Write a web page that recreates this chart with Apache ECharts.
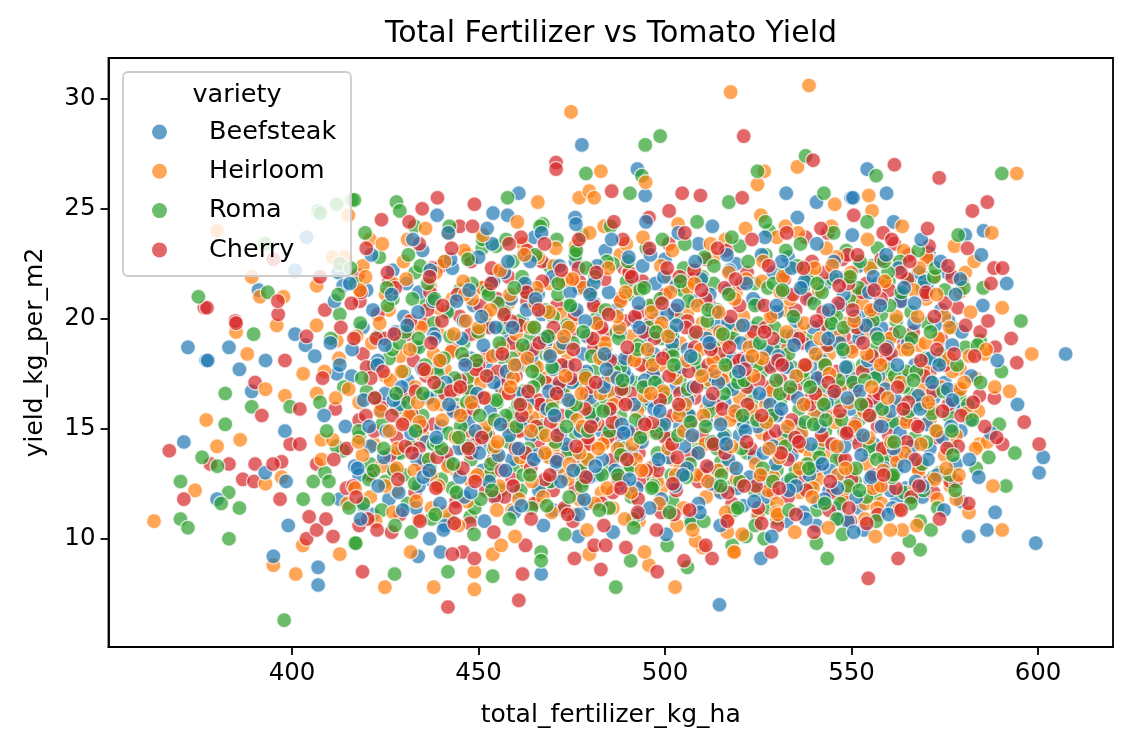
<!DOCTYPE html>
<html>
<head>
<meta charset="utf-8">
<title>Total Fertilizer vs Tomato Yield</title>
<script src="https://cdn.jsdelivr.net/npm/echarts@6/dist/echarts.min.js"></script>
<style>
    html, body { margin: 0; padding: 0; background: #fff; }
    #grafico { width: 1132px; height: 748px; }
</style>
</head>
<body>
<div id="grafico"></div>
<script>
// variedades e cores (tab10)
var variedades = ["Beefsteak", "Heirloom", "Roma", "Cherry"];
var cores = ["#1f77b4", "#ff7f0e", "#2ca02c", "#d62728"];

// ticks dos eixos
var ticksX = [400, 450, 500, 550, 600];
var ticksY = [10, 15, 20, 25, 30];

// [total_fertilizer_kg_ha, yield_kg_per_m2] (nucleo estimado)
var beefsteak = [
    [372.1,18.7],[377.0,18.1],[377.4,18.1],[383.1,18.7],[385.9,17.7],[389.2,16.7],[392.9,18.1],[371.0,14.4],[379.9,11.8],[395.0,9.2],
    [399.0,10.6],[407.0,8.7],[407.0,7.9],[392.8,13.0],[398.4,12.6],[416.8,13.3],[412.8,11.8],[400.8,19.3],[403.6,18.8],[398.1,14.9],
    [406.1,18.3],[412.0,17.5],[403.9,23.7],[400.8,22.2],[412.4,22.1],[391.0,21.3],[413.7,21.5],[421.7,11.1],[419.1,11.5],[433.8,9.2],
    [439.8,9.4],[436.9,10.0],[466.8,8.4],[476.7,10.1],[514.6,7.0],[477.7,27.9],[492.6,26.8],[494.7,25.6],[460.8,25.7],[453.9,24.8],
    [457.8,24.7],[438.9,24.7],[475.9,24.6],[554.2,26.8],[532.5,25.7],[540.6,25.3],[549.9,25.5],[550.4,25.5],[559.4,25.7],[561.3,24.4],
    [580.5,23.8],[585.4,24.0],[570.7,23.0],[575.6,22.1],[570.5,21.3],[535.5,24.6],[607.4,18.4],[594.5,16.1],[577.4,16.0],[581.8,15.4],
    [579.3,14.9],[601.4,13.7],[600.3,13.0],[579.4,11.7],[588.5,11.2],[581.4,10.1],[586.3,10.4],[599.4,9.8],[562.2,11.8],[560.4,12.2],
    [564.6,12.3],[553.3,10.4],[552.0,11.4],[546.6,11.4],[546.6,10.9],[540.6,10.6],[532.6,10.8],[525.7,9.1],[524.8,11.0],
    [431,17.2],[447,14.6],[462,19.8],[489,12.4],[503,16.9],[517,21.3],[534,13.8],[548,18.5],[561,15.2],[476,22.6],
    [455,11.9],[442,20.4],[468,16.1],[495,18.7],[521,11.5],[539,20.9],[556,17.6],[571,14.1],[424,15.8],[437,12.7],
    [483,14.9],[509,23.4],[527,16.4],[544,12.2],[566,19.3],[452,17.9],[471,13.2],[498,20.1],[513,14.4],[531,18.9],
    [419,19.6],[462,22.9],[487,16.7],[505,12.9],[552,22.4],[575,17.1],[440,15.1],[458,19.1],[479,11.6],[494,15.3],
    [518,18.2],[541,15.7],[559,13.4],[428,13.9],[466,17.4],[491,21.8],[510,17.7],[526,12.6],[547,16.9],[563,21.1],
    [434,21.2],[449,16.3],[473,19.4],[501,14.1],[523,19.6],[537,11.2],[557,16.1],[445,12.8],[464,14.7],[486,18.1],
    [507,10.9],[529,22.1],[551,14.6],[569,11.9],[416,17.4],[433,18.7],[459,13.6],[481,20.7],[497,13.3],[516,16.2],
    [535,17.4],[554,20.2],[572,16.4],[426,11.8],[454,21.7],[475,15.6],[493,11.1],[514,19.7],[532,14.9],[549,10.8],
    [565,15.6],[439,17.8],[461,16.6],[484,23.1],[506,18.6],[524,13.7],[543,21.6],[560,18.4],[421,14.2],[446,19.9],
    [470,11.3],[490,17.3],[511,15.4],[530,20.3],[546,14.1],[567,17.9],[436,14.4],[457,15.2],[478,18.4],[500,22.7],
    [520,14.7],[538,16.1],[555,12.7],[574,20.4],[443,22.3],[467,20.2],[488,14.2],[508,20.8],[528,17.9],[545,19.3],
    [562,13.1],[430,20.1],[451,13.1],[474,17.8],[496,16.3],[515,12.1],[533,22.8],[553,15.9],[578,13.4],[425,16.6],
    [448,18.2],[469,12.6],[492,19.9],[512,21.1],[536,15.2],[558,19.6],[441,10.6],[463,18.7],[485,15.8],[502,19.2],
    [522,17.1],[540,13.3],[568,22.1],[418,12.9],[435,23.1],[456,16.9],[477,21.4],[499,11.8],[519,15.8],[542,18.1],
    [564,17.2],[432,15.5],[453,14.3],[472,14.8],[494,22.4],[512,13.2],[530,15.6],[550,17.3],[577,18.8],[427,22.2],
    [444,16.8],[466,21.1],[489,17.6],[504,15.1],[525,20.7],[548,12.9],[570,15.2],[438,19.3],[460,12.1],[482,12.9],
    [506,16.3],[527,11.9],[545,16.6],[563,14.8],[423,18.1],[450,22.8],[471,16.9],[497,18.4],[517,13.6],[535,19.9],
    [557,21.6],[580,15.9],[434,12.4],[458,17.3],[480,16.4],[501,13.7],[524,18.8],[543,14.4],[561,11.4],[446,14.9],
    [465,23.7],[491,13.9],[513,17.4],[533,12.6],[552,19.1],[573,12.9],[429,16.1],[455,18.4],[476,13.9],[498,17.2],
    [519,22.5],[539,17.8],[559,16.8],[420,21.3],[442,13.5],[468,18.9],[487,20.4],[509,11.6],[529,14.2],[547,20.6],
    [566,13.7],[437,16.4],[463,15.4],[484,17.1],[503,21.5],[521,15.3],[541,11.7],[556,14.3],[576,19.9],
    [414.3,15.1],[427.8,19.4],[433.5,13.6],[441.2,17.1],[448.7,20.6],[453.1,15.8],[459.6,11.2],[464.2,18.3],[469.8,21.9],[473.4,14.3],
    [478.9,17.6],[482.3,19.9],[486.6,13.1],[491.7,16.1],[495.2,19.3],[499.8,15.2],[504.4,17.8],[508.9,13.9],[513.6,20.3],[518.1,16.8],
    [522.7,12.8],[527.3,18.6],[531.8,21.2],[536.2,14.7],[540.9,17.3],[545.3,22.6],[549.7,15.9],[554.4,18.1],[558.8,13.2],[563.3,20.8],
    [567.9,16.5],[572.4,19.7],[582.1,17.4],[417.6,13.2],[422.9,17.9],[436.4,16.4],[444.8,14.1],[451.3,18.8],[456.9,22.1],[461.7,15.3],
    [466.2,12.2],[471.5,16.9],[476.3,20.4],[480.6,15.5],[484.9,21.2],[489.3,18.2],[493.8,14.4],[497.4,21.6],[501.9,18.9],[506.5,15.6],
    [511.2,19.1],[515.7,14.6],[520.3,18.9],[524.8,15.1],[529.6,13.4],[534.1,19.2],[538.7,12.9],[543.4,16.2],[547.9,21.1],[552.6,13.8],
    [557.2,17.4],[561.8,16.3],[566.3,14.2],[571.1,18.2],[576.7,15.1],[585.2,20.6],[411.4,20.8],[425.3,14.9],[430.7,21.6],[438.3,19.1],
    [446.2,11.9],[449.6,16.6],[455.4,13.8],[458.7,20.9],[463.1,16.2],[467.6,19.1],[470.9,13.5],[475.1,17.1],[479.7,12.8],[483.6,16.9],
    [487.9,19.4],[492.4,12.3],[496.8,17.5],[500.6,20.2],[505.2,14.2],[509.7,21.8],[514.3,17.1],[519.4,12.3],[523.6,20.9],[528.2,16.1],
    [532.7,17.8],[537.4,21.7],[541.6,15.1],[546.8,18.9],[551.3,11.9],[555.9,21.9],[560.4,15.8],[565.1,18.9],[569.6,21.7],[574.3,14.6],
    [419.2,16.3],[428.6,12.1],[434.9,17.7],[442.5,22.7],[447.3,15.3],[452.8,12.6],[457.5,17.6],[462.9,20.4],[468.4,15.9],[472.7,18.9],
    [477.2,14.9],[481.8,22.4],[485.5,15.9],[490.1,14.9],[494.6,17.2],[498.3,13.6],[503.1,19.7],[507.6,16.9],[512.4,12.5],[516.9,19.8],
    [521.5,14.9],[525.9,22.9],[530.4,18.3],[535.6,16.4],[539.8,19.6],[544.2,13.1],[548.5,17.8],[553.8,19.7],[558.1,15.1],[562.6,22.3],
    [567.2,12.6],[573.5,17.9],[579.6,19.4],[587.3,14.8],[412.8,17.9],[421.7,20.4],[431.9,14.8],[439.7,11.6],[445.5,19.1],[450.2,13.9],
    [454.6,19.6],[460.3,17.9],[465.8,13.8],[470.2,17.7],[474.6,21.2],[479.1,19.2],[483.2,13.6],[488.4,15.2],[492.9,20.7],[497.1,15.9],
    [502.7,12.4],[506.9,18.3],[511.8,16.3],[517.3,22.2],[522.1,18.1],[526.4,13.9],[531.2,15.9],[535.1,12.4],[539.3,18.7],[543.9,20.4],
    [548.1,14.2],[552.2,16.7],[556.7,19.3],[561.3,14.1],[566.8,19.8],[570.5,13.6],[575.8,16.8],[584.1,12.8],[424.6,13.7],[437.8,20.8],
    [443.3,15.8],[458.2,14.7],[463.8,22.6],[468.9,16.7],[478.3,11.8],[487.2,17.3],[496.1,22.9],[505.9,13.2],[514.9,15.2],[519.8,17.6],
    [533.9,22.3],[542.7,11.8],[550.8,20.1],[559.6,18.7],[568.4,15.9],[577.9,21.1],[416.1,18.6],[429.4,16.9],[433.2,11.4],[453.7,23.4],
    [418.4,10.9],[423.1,12.4],[429.7,11.3],[435.2,12.8],[440.6,10.4],[447.9,12.1],[451.6,10.8],[457.2,13.1],[461.5,11.5],[467.4,10.6],
    [472.1,12.6],[476.8,11.1],[481.3,13.3],[486.1,10.3],[490.5,12.7],[495.9,11.4],[500.3,10.2],[504.8,12.9],[509.3,11.2],[514.8,10.6],
    [519.1,13.2],[523.9,11.7],[528.6,10.1],[533.2,12.2],[537.7,10.9],[542.2,13.4],[546.2,12.3],[550.6,10.3],[555.3,12.8],[559.9,11.1],
    [564.2,13.3],[569.1,12.4],[574.8,11.3],[421.3,22.9],[426.7,21.1],[432.4,23.6],[437.1,22.2],[441.9,23.9],[447.5,21.3],[452.3,24.1],
    [457.9,22.6],[462.4,21.6],[466.9,23.9],[471.7,22.4],[476.1,24.3],[480.9,21.6],[485.7,23.6],[490.3,22.8],[494.9,24.4],[499.7,21.9],
    [503.6,23.9],[508.1,22.6],[512.7,24.2],[516.6,22.9],[521.8,21.6],[526.8,23.7],[531.3,22.6],[536.4,21.4],[540.7,23.4],[545.9,21.9],
    [550.2,23.8],[554.7,21.2],[559.3,22.9],[564.1,21.4],[568.7,23.6],[573.9,22.6],[579.2,21.8],[584.8,22.9],[408.6,15.6],[410.3,18.9],
    [415.5,21.6],[420.7,15.1],[427.2,16.3],[433.8,20.3],[438.7,14.6],[444.1,20.8],[449.2,14.9],[454.1,17.1],[459.1,19.6],[464.8,13.6],
    [469.2,18.3],[474.1,16.3],[478.6,19.9],[483.8,18.4],[488.9,14.8],[493.1,19.6],[498.6,15.8],[503.4,20.6],[507.3,14.7],[511.9,18.9],
    [516.4,14.3],[520.9,19.7],[525.3,16.6],[529.9,20.6],[534.6,18.8],[539.1,14.3],[543.7,19.1],[548.9,16.4],[553.1,14.7],[557.7,20.6],
    [562.3,17.9],[566.9,20.7],[571.6,17.1],[577.1,16.3],[581.6,13.6],[589.1,18.1],[591.6,21.6],[424.9,18.8],[430.9,19.7],[436.8,13.1],
    [442.1,16.1],[446.4,17.9],[450.8,20.1],[455.9,15.2],[460.7,14.1],[465.3,20.9],[470.4,15.6],[475.4,13.1],[479.9,21.1],[484.3,17.7]
];

var heirloom = [
    [363.0,10.8],[388.0,18.4],[385.0,19.4],[377.0,15.4],[386.1,14.5],[379.9,14.2],[374.0,12.2],[392.9,12.5],[395.0,8.8],[401.0,8.4],
    [402.9,9.7],[412.8,9.3],[392.9,16.8],[397.2,12.8],[407.9,14.5],[398.1,16.5],[403.0,17.5],[406.6,16.6],[406.6,19.7],[395.9,19.7],
    [412.0,19.0],[379.9,24.0],[415.1,24.7],[420.9,23.6],[410.9,22.8],[414.2,22.8],[389.2,21.9],[391.4,21.0],[397.7,21.0],[406.6,21.5],
    [437.4,11.4],[438.0,7.8],[448.9,8.5],[448.9,7.7],[453.8,9.3],[456.1,9.7],[431.8,9.4],[424.9,7.8],[479.7,9.3],[495.7,8.8],
    [494.5,9.4],[502.7,7.8],[510.0,9.6],[508.2,9.9],[518.7,9.4],[516.7,10.3],[474.8,29.4],[517.6,30.3],[538.6,30.6],[482.8,26.7],
    [494.8,26.2],[477.0,25.5],[479.7,25.8],[481.0,25.5],[465.9,25.3],[483.7,24.2],[535.5,26.9],[526.6,26.7],[524.8,26.1],[545.5,25.2],
    [554.6,25.6],[555.5,24.9],[587.6,23.9],[572.2,21.9],[580.5,22.1],[579.6,21.7],[590.4,20.5],[532.3,24.2],[525.7,24.7],[594.3,26.6],
    [598.3,18.4],[585.6,18.4],[581.6,18.3],[579.1,17.7],[583.3,17.3],[584.0,15.8],[584.3,14.3],[586.4,14.4],[576.5,12.4],[581.5,11.2],
    [590.4,10.4],[556.4,10.1],[563.6,10.4],[560.4,10.4],[553.7,11.6],[518.5,9.4],
    [429,18.3],[444,13.1],[458,20.7],[471,15.2],[486,17.9],[499,12.3],[512,19.4],[526,14.8],[540,21.9],[553,16.2],
    [568,18.8],[437,21.5],[452,16.4],[466,11.7],[480,19.1],[494,14.6],[508,22.3],[522,17.1],[536,12.1],[549,19.8],
    [563,14.2],[422,14.3],[448,12.6],[462,17.9],[476,23.3],[490,16.2],[504,18.9],[518,13.3],[532,20.4],[546,15.6],
    [560,22.6],[574,16.9],[433,16.9],[456,22.1],[470,14.1],[483,12.1],[497,20.6],[511,15.9],[525,11.1],[539,17.3],
    [554,13.4],[570,20.9],[426,20.4],[441,17.7],[460,14.9],[474,18.2],[488,22.9],[502,13.6],[516,17.6],[530,23.7],
    [544,18.4],[558,11.6],[441,11.2],[465,19.6],[479,16.1],[493,10.8],[507,16.7],[521,20.1],[535,15.1],[551,21.1],
    [565,17.4],[418,16.2],[435,14.7],[450,19.3],[469,21.6],[484,14.4],[498,16.4],[514,12.2],[528,18.3],[543,13.9],
    [557,18.1],[575,13.8],[428,12.2],[447,22.9],[463,13.4],[477,17.2],[491,19.2],[505,11.4],[519,21.2],[534,16.6],
    [548,11.9],[562,20.1],[439,19.4],[454,15.3],[468,17.3],[482,20.4],[496,13.2],[510,19.8],[524,15.6],[538,22.2],
    [552,14.7],[567,12.4],[431,23.6],[445,15.9],[459,11.3],[473,12.9],[487,15.3],[501,21.9],[515,14.1],[529,12.8],
    [545,20.3],[559,15.6],[577,17.6],[421,11.9],[438,18.4],[453,12.9],[467,15.8],[481,22.2],[495,17.7],[509,13.9],
    [523,19.1],[537,14.2],[550,17.4],[564,23.1],[425,17.4],[443,20.9],[457,17.6],[472,20.2],[486,11.4],[500,15.4],
    [513,22.8],[527,16.1],[541,12.7],[555,22.3],[571,15.4],[436,13.6],[451,21.4],[464,16.4],[478,14.2],[492,18.3],
    [506,20.3],[520,16.4],[533,18.7],[547,16.9],[561,12.9],[579,21.2],[419,22.4],[434,10.9],[449,17.4],[462,23.4],
    [475,19.9],[489,13.8],[503,17.3],[517,10.9],[531,14.3],[546,22.8],[560,17.2],[573,11.8],[430,15.3],[446,14.1],
    [461,18.6],[477,11.8],[492,21.4],[507,14.6],[521,12.6],[536,19.4],[550,13.1],[566,19.2],[440,16.1],[455,13.7],
    [470,19.1],[485,16.7],[498,19.6],[512,17.2],[526,21.7],[540,15.6],[555,19.4],[569,16.8],[424,13.3],[442,23.9],
    [458,15.1],[473,16.6],[488,12.8],[502,23.1],[516,18.9],[530,11.6],[543,17.9],[558,14.1],[578,14.7],[432,19.9],
    [447,11.7],[466,22.8],[481,15.3],[496,15.1],[511,11.9],[525,18.1],[539,13.8],[553,20.7],[568,13.1],[427,21.6],
    [450,18.1],[469,13.7],[484,18.6],[499,17.9],[515,15.4],[532,16.7],[549,12.3],[563,16.1],
    [412.6,18.2],[418.9,13.8],[425.1,21.1],[431.4,15.6],[437.2,12.9],[442.7,18.5],[447.4,14.9],[452.1,20.2],[457.1,16.6],[461.2,13.7],
    [465.7,17.8],[470.3,22.4],[474.8,16.2],[479.4,13.6],[483.9,18.9],[488.1,20.8],[492.6,15.8],[497.9,12.6],[502.3,17.6],[506.2,21.4],
    [510.8,14.3],[515.4,17.2],[519.9,19.7],[524.3,13.4],[528.8,16.7],[533.5,20.9],[537.9,17.9],[542.3,14.5],[546.6,19.2],[551.1,16.3],
    [555.8,12.3],[560.3,19.1],[564.7,15.3],[569.2,17.7],[574.9,20.1],[580.7,15.7],[588.4,16.9],[415.2,16.8],[421.4,18.9],[428.2,14.1],
    [434.6,19.6],[440.3,15.4],[445.9,21.7],[450.7,17.1],[455.6,12.4],[460.1,19.3],[464.5,15.5],[469.1,18.4],[473.9,12.7],[478.2,21.4],
    [482.7,16.6],[487.3,14.1],[491.8,18.1],[496.4,20.3],[500.9,14.1],[505.4,16.1],[509.6,18.6],[514.2,13.1],[518.6,20.9],[523.2,15.9],
    [527.7,12.2],[532.1,18.1],[536.6,14.8],[541.2,21.3],[545.7,15.3],[550.1,18.5],[554.6,14.6],[559.1,21.6],[563.8,18.6],[568.6,14.3],
    [573.2,19.1],[578.8,12.9],[586.1,18.6],[410.9,14.5],[419.7,21.9],[426.4,17.2],[432.8,13.1],[439.1,20.5],[444.2,16.8],[449.1,12.8],
    [453.8,18.3],[458.4,21.1],[462.7,15.9],[467.3,11.9],[471.8,18.7],[476.4,15.4],[481.1,11.6],[485.6,17.4],[490.2,22.1],[494.5,16.5],
    [499.1,19.8],[503.8,15.6],[508.4,12.9],[512.9,18.1],[517.4,15.4],[521.8,21.8],[526.1,18.2],[530.7,13.7],[535.2,17.4],[539.7,12.3],
    [544.1,17.5],[548.8,21.9],[553.3,15.8],[557.8,17.9],[562.2,13.5],[566.7,21.3],[571.4,15.9],[576.1,18.2],[583.3,14.1],[414.8,11.6],
    [423.7,15.8],[429.9,22.6],[436.1,17.6],[441.8,13.3],[446.6,19.9],[451.6,15.1],[456.3,18.7],[460.8,11.8],[465.2,20.7],[469.9,16.3],
    [474.2,19.6],[478.7,17.3],[483.3,14.3],[487.8,19.6],[492.2,13.6],[496.7,17.9],[501.4,21.2],[505.8,18.1],[510.3,15.6],[514.7,19.4],
    [519.2,12.7],[523.7,17.4],[528.3,20.1],[532.9,15.1],[537.3,19.8],[541.9,16.3],[546.3,12.9],[550.9,15.1],[555.2,20.4],[559.7,16.4],
    [564.3,13.9],[569.8,18.9],[575.4,13.2],[581.9,20.3],[417.3,19.2],[424.9,12.4],[433.7,16.2],[438.6,22.1],[443.9,14.6],[448.3,20.9],
    [454.4,14.2],[459.3,17.3],[463.9,19.6],[468.1,14.7],[472.4,21.7],[477.1,13.9],[481.6,19.8],[486.2,16.1],[490.9,12.1],[495.3,18.6],
    [499.5,16.7],[504.1,13.2],[508.7,20.6],[513.3,17.6],[517.8,14.2],[522.6,18.7],[527.2,15.3],[531.6,21.9],[536.1,13.2],[540.4,18.4],
    [544.8,22.4],[549.4,16.2],[554.1,18.4],[558.5,13.1],[563.1,17.1],[567.7,20.1],[572.7,14.9],[579.2,16.8],[427.1,11.2],[446.1,23.1],
    [462.3,22.9],[475.6,11.1],[489.6,23.4],[503.2,10.6],[516.2,23.6],[529.9,11.2],[543.2,23.2],[556.9,11.4],[570.1,22.8],[408.7,17.6],
    [416.9,12.3],[422.4,10.8],[428.1,13.2],[433.3,11.7],[439.3,12.4],[444.6,10.6],[449.7,12.9],[454.9,11.3],[459.8,10.1],[464.3,12.6],
    [469.6,11.2],[474.4,13.4],[479.1,10.4],[484.5,12.3],[489.2,10.9],[493.7,13.1],[498.4,11.6],[502.9,12.9],[507.4,10.4],[511.5,12.6],
    [516.3,11.2],[520.7,10.2],[525.6,12.9],[530.2,11.1],[534.8,10.3],[539.5,11.9],[543.8,10.5],[548.4,13.2],[553.6,10.9],[557.9,12.4],
    [562.6,11.3],[567.5,10.6],[572.3,12.7],[578.1,11.8],[418.2,21.3],[424.2,23.4],[430.6,21.8],[435.8,24.1],[440.9,22.6],[446.3,21.1],
    [451.2,23.8],[455.8,22.2],[460.4,24.4],[465.6,21.4],[470.7,23.2],[475.2,21.8],[479.8,23.9],[484.8,22.3],[489.4,21.2],[494.1,23.7],
    [498.9,22.4],[503.5,24.3],[507.9,21.6],[512.2,23.4],[517.1,22.1],[521.6,24.1],[526.3,22.6],[530.9,21.2],[535.7,23.9],[540.1,22.3],
    [544.6,24.2],[549.9,22.1],[554.3,23.6],[558.9,21.7],[563.6,24.2],[568.2,22.3],[572.8,21.1],[577.6,23.3],[582.9,22.6],[407.9,13.6],
    [411.7,16.4],[417.8,14.4],[423.5,19.8],[429.4,17.6],[434.2,15.3],[439.6,18.1],[445.2,15.6],[450.1,19.6],[455.1,14.4],[459.7,17.9],
    [464.1,14.9],[468.9,20.3],[473.3,17.4],[477.9,15.1],[482.6,18.2],[487.1,20.1],[491.3,14.3],[496.2,16.6],[500.8,19.2],[505.1,14.9],
    [509.9,17.4],[514.4,20.3],[518.8,15.8],[523.4,18.3],[527.9,14.1],[532.6,19.4],[537.2,16.1],[541.6,19.1],[546.1,14.2],[550.7,19.9],
    [555.4,16.9],[560.6,14.4],[565.1,18.6],[570.6,16.2],[576.3,19.6],[580.2,17.1],[587.9,12.4],[592.4,16.7],[426.1,14.9],[431.6,18.6],
    [437.9,16.1],[443.4,19.3],[448.1,16.2],[453.2,20.4],[458.6,16.9],[463.1,18.2],[467.8,13.9],[472.9,19.2],[477.6,16.6],[482.1,14.1]
];

var roma = [
    [382.1,16.6],[389.7,19.3],[389.2,16.0],[382.1,15.2],[375.9,13.7],[380.0,13.3],[370.1,12.6],[383.0,12.1],[381.0,11.6],[385.9,11.4],
    [370.1,10.9],[372.1,10.5],[383.1,10.0],[397.9,6.3],[427.5,8.4],[416.8,9.8],[403.0,11.8],[405.7,12.6],[413.7,14.0],[408.8,13.0],
    [409.7,11.8],[399.5,16.0],[407.5,16.2],[412.8,20.2],[416.0,25.4],[412.0,25.2],[407.0,24.9],[407.6,24.8],[392.8,23.4],[412.8,22.5],
    [374.9,21.0],[393.5,21.2],[441.8,8.5],[453.8,8.3],[486.8,7.8],[490.8,9.0],[506.0,8.7],[518.0,9.7],[500.6,9.7],[466.8,9.4],
    [466.8,9.0],[417.1,9.8],[432.0,10.3],[442.2,10.9],[447.8,11.0],[498.7,28.3],[494.7,27.9],[478.8,26.6],[493.8,26.5],[490.6,25.7],
    [416.7,25.4],[457.8,25.5],[428.0,25.3],[428.9,24.9],[432.9,24.2],[454.7,23.3],[517.1,25.3],[467.2,24.3],[537.7,27.4],[524.8,26.7],
    [556.6,26.5],[590.3,26.6],[542.6,25.7],[565.5,21.8],[569.3,21.9],[548.6,23.1],[527.9,24.0],[555.5,22.4],[595.4,19.9],[584.5,19.0],
    [580.5,18.7],[583.4,13.2],[591.4,12.4],[573.5,13.0],[576.4,14.2],[568.4,9.5],[565.5,9.9],[568.4,10.8],[566.5,11.9],[556.4,12.0],
    [543.5,9.1],[540.6,9.8],[540.6,11.3],[526.6,10.0],[521.7,10.1],[539.5,12.5],
    [432,14.2],[446,18.9],[460,13.3],[474,20.6],[488,15.6],[502,11.7],[516,18.1],[530,13.1],[544,19.6],[558,16.7],
    [572,12.8],[423,19.2],[439,16.6],[454,21.8],[467,12.4],[481,17.6],[495,23.2],[509,14.2],[523,16.6],[537,21.4],
    [551,12.6],[565,18.6],[428,15.9],[443,12.3],[457,18.1],[471,16.4],[485,13.2],[499,19.1],[513,21.6],[527,15.2],
    [541,18.2],[555,13.9],[569,21.4],[418,14.6],[436,20.7],[450,14.7],[464,19.2],[478,12.6],[492,17.1],[506,15.7],
    [520,23.3],[534,17.8],[548,14.9],[562,19.9],[576,15.6],[425,12.6],[441,22.6],[455,16.2],[469,22.4],[483,18.6],
    [497,12.7],[511,17.1],[525,19.8],[539,12.4],[553,17.9],[567,14.6],[430,17.6],[448,13.6],[462,16.7],[476,14.8],
    [490,21.1],[504,17.3],[518,12.4],[532,22.1],[546,16.3],[560,21.7],[574,18.4],[420,16.7],[437,13.2],[452,19.7],
    [466,15.2],[480,21.2],[494,16.1],[508,19.3],[522,13.9],[536,15.9],[550,20.8],[564,12.1],[434,18.7],[449,11.4],
    [463,21.2],[477,17.1],[491,11.9],[505,22.3],[519,17.4],[533,14.6],[547,11.6],[561,15.3],[579,16.4],[427,20.9],
    [444,16.1],[458,14.4],[472,18.7],[487,19.4],[501,14.6],[515,13.5],[529,18.6],[543,14.9],[557,23.2],[571,17.2],
    [421,13.4],[438,19.8],[453,17.4],[468,13.8],[482,15.9],[496,20.6],[510,12.8],[524,21.6],[538,19.1],[552,15.4],
    [566,20.3],[431,11.6],[445,21.3],[459,15.7],[473,11.3],[486,22.5],[500,16.6],[514,20.4],[528,11.4],[542,16.8],
    [556,18.6],[570,14.4],[426,18.2],[442,14.8],[456,12.2],[470,20.1],[484,16.4],[498,13.9],[512,15.8],[526,17.6],
    [540,20.7],[554,11.9],[568,16.1],[417,21.6],[435,15.6],[451,23.2],[465,17.9],[479,13.6],[493,18.8],[507,10.7],
    [521,15.1],[535,13.1],[549,17.8],[563,22.6],[577,19.6],[429,13.9],[447,17.3],[461,19.9],[475,15.7],[489,14.1],
    [503,20.1],[517,16.9],[531,16.3],[545,21.8],[559,13.7],[573,14.9],[422,17.9],[440,12.7],[454,14.1],[468,18.4],
    [482,19.8],[496,18.1],[510,21.9],[524,12.2],[538,17.2],[552,19.4],[566,16.6],[433,22.1],[448,16.7],[462,12.9],
    [476,22.9],[490,13.1],[504,15.9],[518,19.6],[532,19.2],[546,13.6],[560,17.7],[575,21.3],[424,11.3],[439,17.5],
    [457,20.3],[474,13.9],[488,17.8],[502,18.6],[516,14.7],[530,10.9],[544,18.8],[558,20.2],[438,14.3],[453,12.9],
    [471,23.6],[485,11.4],[499,15.1],[513,18.7],[527,22.9],[541,14.1],[555,15.6],[570,18.2],
    [413.9,16.9],[420.6,12.7],[426.9,18.6],[432.3,20.9],[438.8,14.4],[443.6,17.3],[448.2,21.6],[453.3,13.4],[458.9,18.2],[463.4,14.1],
    [467.9,20.4],[472.6,16.8],[477.4,13.1],[481.9,20.1],[486.4,17.6],[490.8,13.3],[495.6,19.6],[500.2,16.4],[504.7,21.3],[509.2,17.7],
    [513.9,14.1],[518.4,19.1],[523.1,16.2],[527.6,21.4],[532.3,14.2],[536.9,17.6],[541.4,13.7],[545.9,20.1],[550.4,17.1],[554.9,14.2],
    [559.4,18.9],[563.9,16.9],[568.9,13.4],[573.8,18.1],[581.2,16.1],[589.6,15.2],[411.9,14.2],[418.3,19.8],[424.2,15.2],[430.1,12.9],
    [435.7,17.9],[441.6,20.3],[446.9,16.2],[451.9,14.8],[456.6,19.6],[461.3,12.2],[466.1,17.2],[470.6,14.4],[475.3,18.9],[479.8,15.7],
    [484.4,22.6],[488.9,16.8],[493.3,21.3],[497.7,14.8],[502.1,18.3],[506.7,13.4],[511.3,19.9],[515.8,16.6],[520.5,14.1],[524.9,17.9],
    [529.4,19.6],[533.8,12.7],[538.3,21.8],[542.9,17.9],[547.4,15.4],[551.9,21.4],[556.3,17.3],[560.9,12.8],[565.4,15.8],[570.3,19.8],
    [576.4,12.9],[583.8,18.8],[415.7,22.3],[422.1,16.4],[427.3,13.1],[433.9,19.1],[439.4,16.9],[444.1,12.1],[449.9,19.4],[454.8,16.3],
    [459.2,22.6],[464.7,16.9],[469.4,12.6],[473.7,19.7],[478.6,17.4],[483.1,12.9],[487.6,19.1],[492.1,15.4],[496.9,12.4],[501.6,19.4],
    [506.1,16.8],[510.6,22.8],[515.1,12.9],[519.6,17.1],[524.1,20.6],[528.7,15.6],[533.1,18.4],[537.6,15.3],[542.1,21.2],[546.5,17.2],
    [551.2,13.2],[555.7,19.9],[560.2,20.6],[564.6,17.6],[569.3,12.2],[574.6,16.7],[580.1,21.4],[586.8,13.7],[410.4,19.1],[419.1,11.6],
    [425.6,20.6],[431.1,16.2],[436.7,13.6],[442.4,19.2],[447.1,14.2],[452.4,21.3],[457.3,15.6],[461.9,18.8],[466.8,14.8],[471.3,21.1],
    [476.1,16.1],[480.4,18.3],[485.1,14.9],[489.7,21.7],[494.2,16.9],[498.8,20.9],[503.5,14.7],[507.9,18.2],[512.6,14.4],[517.1,21.1],
    [521.3,17.2],[526.2,13.2],[530.8,16.6],[535.4,22.4],[539.9,15.2],[544.6,19.8],[549.1,12.4],[553.6,17.2],[558.2,15.9],[562.9,19.4],
    [567.4,17.6],[572.1,21.9],[578.3,17.9],[417.9,14.9],[428.8,18.9],[434.4,22.4],[440.7,18.2],[445.2,15.1],[450.6,11.8],[455.2,20.7],
    [460.6,16.1],[465.3,22.9],[469.7,17.8],[474.3,11.9],[478.9,22.3],[483.6,18.1],[488.2,13.8],[492.7,18.6],[497.3,17.1],[501.7,12.9],
    [506.3,20.8],[510.9,15.1],[515.5,19.3],[520.1,12.6],[524.6,15.4],[529.1,21.6],[533.6,16.9],[538.1,13.4],[542.6,16.1],[547.7,18.6],
    [552.3,22.6],[556.8,13.6],[561.6,17.4],[566.1,19.1],[571.6,15.7],[577.2,13.8],[584.6,17.1],[409.9,12.6],[423.4,22.8],[437.4,10.9],
    [451.1,23.6],[464.2,11.4],[477.8,23.8],[491.4,10.9],[505.3,23.4],[518.7,11.3],[532.4,23.1],[546.1,10.9],[559.8,22.1],[573.1,11.4],
    [415.3,11.4],[421.9,13.1],[427.6,10.6],[432.9,12.5],[438.4,11.1],[443.2,13.4],[448.8,10.2],[453.6,12.2],[458.3,10.9],[463.8,12.9],
    [468.3,11.5],[473.1,10.2],[477.7,12.4],[482.4,11.3],[487.4,12.9],[491.6,10.5],[496.5,12.3],[501.2,11.2],[505.7,12.8],[510.4,10.8],
    [514.9,12.4],[519.5,11.4],[524.2,10.6],[528.9,12.6],[533.3,11.3],[538.6,13.2],[542.8,11.6],[547.6,10.2],[552.1,12.2],[556.6,10.8],
    [561.2,12.9],[565.9,11.6],[571.3,10.4],[577.8,12.2],[419.6,23.9],[425.4,21.4],[431.2,22.9],[436.4,21.6],[442.2,24.2],[447.2,22.7],
    [452.7,21.1],[457.4,23.6],[461.7,21.9],[466.5,24.2],[471.4,21.6],[476.2,23.1],[481.2,21.9],[485.4,24.2],[490.1,22.6],[494.4,21.4],
    [499.3,23.6],[504.2,21.7],[508.6,24.4],[513.1,22.4],[517.9,23.7],[522.3,22.6],[526.9,24.4],[531.5,21.3],[536.3,23.4],[540.8,21.6],
    [545.2,23.9],[549.6,21.9],[554.2,24.4],[558.7,22.6],[563.4,21.2],[567.9,23.1],[572.5,22.3],[578.6,23.8],[585.3,21.4],[409.3,14.9],
    [412.4,21.1],[418.7,17.3],[424.6,14.1],[430.3,19.4],[435.1,16.6],[440.1,14.1],[445.6,18.4],[450.3,15.6],[455.6,18.9],[460.2,15.1],
    [464.9,19.6],[469.8,15.9],[474.6,20.6],[479.3,14.9],[484.1,20.4],[488.6,17.2],[493.4,14.6],[497.6,19.4],[502.4,17.9],[506.8,15.3],
    [511.6,20.4],[516.2,17.9],[520.8,15.6],[525.4,18.9],[529.8,17.2],[534.4,20.1],[538.9,16.9],[543.1,15.4],[547.9,19.6],[552.6,16.1],
    [557.1,19.1],[561.4,14.4],[566.6,17.2],[571.2,19.4],[576.9,14.9],[582.4,15.4],[590.2,17.6],[593.8,13.9],[427.9,16.6],[433.1,14.9],
    [438.2,20.9],[444.7,14.6],[449.4,18.1],[454.3,15.4],[459.6,21.4],[464.4,17.6],[468.6,19.2],[473.6,15.1],[478.1,19.4],[483.4,15.8]
];

var cherry = [
    [367.1,14.0],[378.1,13.4],[383.1,13.4],[386.8,12.7],[389.8,12.6],[390.1,13.4],[371.0,11.8],[376.5,20.5],[377.2,20.5],[384.8,19.9],
    [385.0,19.8],[390.1,17.1],[391.9,15.6],[396.8,11.8],[397.2,13.5],[394.9,13.4],[406.6,13.4],[399.5,14.3],[402.1,14.3],[414.6,12.3],
    [420.9,13.0],[403.9,10.0],[406.6,10.4],[404.6,11.0],[409.1,10.9],[411.0,10.1],[418.9,8.5],[403.9,19.2],[398.1,18.1],[402.1,15.9],
    [408.8,20.4],[396.3,20.2],[424.0,24.5],[395.0,22.7],[407.5,21.9],[417.7,22.0],[396.2,20.8],[418.2,20.8],[418.0,10.6],[426.7,10.3],
    [441.8,6.9],[461.8,8.4],[460.8,7.2],[482.8,8.6],[475.7,9.1],[481.0,9.7],[484.1,9.7],[497.9,8.5],[505.1,9.0],[512.6,9.1],
    [489.5,9.6],[462.6,9.7],[445.8,9.4],[448.9,9.1],[443.0,9.3],[510.9,9.7],[521.1,28.3],[470.8,27.1],[470.8,26.8],[485.7,25.8],
    [504.6,25.7],[509.5,25.6],[439.0,25.5],[448.9,25.2],[434.9,25.0],[444.9,24.2],[520.7,25.5],[501.1,24.9],[495.7,24.6],[539.7,27.2],
    [561.5,27.0],[573.5,26.4],[550.6,24.7],[558.5,23.9],[561.5,23.4],[582.4,24.9],[586.4,25.3],[565.3,22.9],[570.7,22.7],[588.2,22.3],
    [590.5,22.3],[578.5,20.5],[537.7,23.7],[547.5,22.7],[594.3,18.0],[588.5,18.7],[584.5,19.4],[578.7,16.8],[584.3,16.5],[588.3,16.4],
    [596.3,15.3],[590.5,14.3],[600.3,14.3],[576.5,12.6],[570.5,12.6],[562.5,9.1],[554.5,8.2],[549.7,10.8],[547.8,12.0],[560.4,12.8],
    [528.5,9.4],
    [430,16.4],[445,20.1],[459,12.7],[473,17.9],[487,14.7],[501,18.4],[515,13.1],[529,20.2],[543,15.8],[557,12.4],
    [571,17.6],[421,12.9],[438,15.2],[452,18.3],[466,14.4],[480,21.3],[494,12.6],[508,16.4],[522,22.1],[536,14.2],
    [550,18.7],[564,15.4],[426,21.7],[442,13.4],[456,16.9],[470,12.2],[484,19.3],[498,14.9],[512,20.6],[526,12.9],
    [540,17.1],[554,21.6],[568,13.2],[419,18.4],[435,19.8],[449,14.3],[463,20.8],[477,13.4],[491,16.6],[505,13.1],
    [519,17.9],[533,11.9],[547,13.7],[561,19.3],[576,16.1],[428,14.6],[444,11.7],[458,21.9],[472,15.6],[486,12.1],
    [500,21.1],[514,16.1],[528,14.6],[542,19.7],[556,16.4],[570,21.1],[433,12.1],[447,16.8],[461,14.9],[475,19.4],
    [489,22.3],[503,12.2],[517,19.1],[531,17.2],[545,12.1],[559,18.1],[573,14.6],[424,16.1],[440,22.4],[454,13.6],
    [468,17.1],[482,15.2],[496,19.8],[510,14.7],[524,18.4],[538,20.9],[552,14.3],[566,11.9],[436,17.4],[451,21.4],
    [465,11.6],[479,16.6],[493,13.9],[507,21.8],[521,15.7],[535,16.9],[549,22.9],[563,17.1],[578,12.6],[427,13.2],
    [443,18.6],[457,15.3],[471,20.6],[485,17.4],[499,11.2],[513,18.8],[527,19.6],[541,13.2],[555,19.8],[569,16.3],
    [418,15.4],[434,14.1],[448,22.6],[462,18.2],[476,12.3],[490,18.1],[504,16.6],[518,11.6],[532,21.8],[546,17.6],
    [560,14.7],[574,19.1],[431,19.3],[446,15.6],[460,17.4],[474,14.1],[488,20.9],[502,15.6],[516,21.4],[530,15.7],
    [544,11.3],[558,22.7],[572,12.1],[423,20.2],[439,12.4],[453,19.6],[467,22.6],[481,18.7],[495,16.9],[509,12.6],
    [523,14.1],[537,18.9],[551,16.8],[565,21.8],[429,11.1],[445,17.2],[459,18.9],[473,11.4],[487,16.2],[501,23.4],
    [515,17.3],[529,12.1],[543,22.1],[557,15.1],[575,17.9],[420,17.8],[437,21.2],[452,12.2],[466,16.3],[480,14.3],
    [494,21.7],[508,18.7],[522,16.9],[536,12.8],[550,12.7],[564,18.9],[432,15.7],[448,13.9],[463,23.1],[477,21.7],
    [492,14.8],[506,19.9],[520,20.6],[534,15.4],[548,19.2],[562,13.8],[577,21.9],[425,19.1],[441,16.6],[455,20.9],
    [469,19.2],[483,11.6],[497,17.6],[511,22.7],[525,11.4],[539,16.4],[553,17.6],[567,15.2],[435,13.3],[450,17.9],
    [464,13.2],[478,17.5],[493,20.3],[507,13.8],[521,18.2],[535,20.4],[549,14.9],[563,20.8],[422,14.9],[440,18.1],
    [457,11.9],[472,16.8],[486,13.6],[500,14.6],[514,12.4],[528,16.9],[542,17.4],[556,20.4],
    [413.1,19.6],[419.8,15.6],[426.2,13.8],[432.6,18.1],[437.6,22.3],[443.1,15.9],[447.9,19.3],[452.6,14.7],[457.7,17.2],[462.1,21.4],
    [466.6,16.1],[471.2,13.6],[475.8,20.2],[480.2,16.9],[484.6,14.6],[489.1,19.9],[493.6,17.9],[498.1,13.1],[502.6,20.4],[507.1,15.3],
    [511.6,17.9],[516.1,13.9],[520.6,21.6],[525.1,17.2],[529.7,14.9],[534.3,21.1],[538.9,16.1],[543.5,18.8],[548.3,13.6],[552.9,21.2],
    [557.4,16.6],[561.9,12.3],[566.5,19.4],[571.9,16.7],[578.6,14.2],[586.6,19.9],[416.4,12.4],[422.6,19.1],[429.1,16.6],[434.8,15.1],
    [440.2,19.9],[445.8,13.2],[450.4,20.6],[455.1,17.6],[459.9,14.1],[464.6,18.6],[469.3,15.3],[473.8,21.8],[478.5,15.9],[483.0,19.6],
    [487.5,12.7],[491.9,20.1],[496.6,15.3],[501.1,17.4],[505.6,19.6],[510.1,12.9],[514.5,18.4],[519.0,15.6],[523.8,19.4],[528.4,17.8],
    [532.9,13.6],[537.5,17.9],[542.0,14.7],[546.4,20.7],[551.0,15.2],[555.5,18.3],[560.1,21.3],[564.8,14.4],[569.4,17.4],[575.1,20.7],
    [582.6,16.2],[411.6,15.9],[418.5,21.2],[424.4,17.6],[430.4,14.2],[436.3,20.4],[441.4,13.9],[446.5,18.1],[451.5,16.4],[456.2,13.1],
    [461.0,19.7],[465.5,15.1],[470.1,19.6],[474.7,17.3],[479.3,14.6],[483.8,21.8],[488.3,16.8],[492.8,11.8],[497.2,19.1],[501.9,14.3],
    [506.4,17.6],[510.9,20.9],[515.4,15.9],[519.9,18.1],[524.4,12.4],[528.9,19.1],[533.4,16.6],[537.9,12.2],[542.4,20.3],[546.9,15.8],
    [551.4,19.6],[555.9,12.9],[560.6,18.4],[565.2,16.2],[570.0,21.2],[575.6,14.1],[583.0,18.3],[414.6,14.1],[421.1,17.3],[427.7,21.4],
    [433.1,16.7],[438.9,13.7],[444.4,21.1],[449.3,17.7],[454.2,11.9],[458.6,19.9],[463.3,16.7],[467.8,12.7],[472.3,17.9],[476.8,22.3],
    [481.4,17.1],[485.9,15.3],[490.4,22.1],[494.9,13.1],[499.4,18.2],[503.9,21.9],[508.5,16.9],[513.0,14.3],[517.6,20.1],[522.1,16.1],
    [526.6,20.6],[531.1,13.9],[535.8,19.1],[540.3,16.6],[544.8,14.3],[549.2,21.6],[553.9,16.1],[558.4,14.1],[563.2,22.1],[567.8,15.1],
    [572.9,18.6],[579.4,15.6],[415.9,20.7],[426.8,15.6],[431.7,19.9],[438.1,17.1],[443.8,11.4],[448.6,15.9],[453.5,22.3],[458.1,16.6],
    [462.6,13.9],[467.1,21.7],[471.7,17.1],[476.2,14.2],[480.9,20.6],[485.3,18.1],[489.8,13.6],[494.3,19.4],[498.7,16.3],[503.3,13.7],
    [507.8,22.2],[512.3,18.6],[516.8,12.1],[521.4,17.7],[525.9,15.6],[530.3,18.1],[534.9,14.6],[539.4,22.6],[543.8,17.1],[548.7,14.8],
    [553.1,18.9],[557.9,20.9],[562.4,16.9],[567.1,13.6],[572.2,20.1],[577.5,18.4],[585.7,15.1],[420.3,10.9],[434.1,23.4],[447.7,10.7],
    [461.4,23.7],[475.3,10.8],[488.7,23.6],[502.4,11.1],[516.4,23.1],[530.1,10.6],[543.6,23.9],[557.1,11.1],[570.8,23.3],[581.4,11.6],
    [417.2,11.9],[422.8,10.4],[428.4,12.7],[434.3,10.8],[438.6,12.3],[443.5,10.7],[449.1,12.6],[454.1,10.3],[459.3,12.4],[464.1,10.9],
    [469.1,12.9],[473.9,11.1],[478.8,12.8],[483.6,10.6],[488.1,12.3],[492.7,11.2],[497.7,10.4],[502.1,12.5],[506.6,11.3],[511.2,13.3],
    [516.7,10.8],[521.2,12.4],[525.9,10.7],[530.6,12.3],[535.1,11.1],[539.9,10.3],[544.3,12.6],[549.3,11.4],[554.1,10.7],[558.6,12.9],
    [563.3,11.3],[568.1,12.4],[573.6,10.9],[419.9,23.2],[425.6,22.1],[431.4,24.4],[436.9,21.9],[442.8,23.2],[448.4,24.2],[453.4,21.6],
    [458.2,23.4],[462.9,21.2],[467.7,23.4],[472.2,22.2],[476.9,23.6],[481.6,22.1],[486.3,24.4],[491.1,21.9],[495.8,23.2],[500.6,22.3],
    [505.3,23.9],[509.8,21.3],[514.1,23.2],[518.9,21.8],[523.3,23.6],[527.8,22.4],[532.6,23.9],[537.1,22.3],[541.8,24.1],[546.7,21.5],
    [551.6,22.9],[556.1,21.3],[560.8,23.6],[565.6,22.6],[570.4,24.1],[575.9,22.4],[581.1,23.2],[587.4,21.6],[408.2,17.3],[411.2,13.6],
    [416.6,19.1],[422.2,16.4],[427.4,19.3],[432.2,13.9],[437.3,18.9],[442.6,16.7],[447.3,14.1],[452.2,17.4],[456.8,20.2],[461.6,15.6],
    [466.3,18.9],[471.1,14.7],[475.9,17.9],[480.6,19.1],[485.2,15.9],[489.9,18.7],[494.6,15.2],[499.2,20.7],[503.7,16.1],[508.3,19.4],
    [512.8,16.6],[517.2,18.7],[521.9,14.4],[526.7,19.4],[531.4,17.9],[535.9,14.4],[540.6,19.9],[545.4,16.7],[550.3,20.4],[554.8,15.6],
    [559.2,18.6],[563.9,15.9],[568.6,18.1],[574.4,15.8],[580.6,19.7],[588.9,14.6],[592.8,19.1],[429.6,15.2],[435.4,17.7],[440.4,20.6],
    [445.1,16.9],[450.9,14.6],[456.4,18.4],[461.2,16.1],[466.1,20.4],[470.9,16.6],[475.4,18.6],[480.1,15.1],[484.9,20.2],[489.4,16.1]
];

var grupos = [beefsteak, heirloom, roma, cherry];

// intercala as variedades para a ordem de desenho ficar misturada
var pontos = [];
var maior = Math.max(...grupos.map(g => g.length));
for (let i = 0; i < maior; i++) {
    grupos.forEach((g, idx) => {
        if (g[i]) pontos.push([g[i][0], g[i][1], idx]);
    });
}

var fonte = "DejaVu Sans";

// series so para a legenda + uma serie com todos os pontos
var series = variedades.map((nome, idx) => ({
    name: nome,
    type: "scatter",
    data: [],
    itemStyle: { color: cores[idx], opacity: 0.7 }
}));

series.push({
    type: "scatter",
    data: pontos,
    symbolSize: 15,
    legendHoverLink: false,
    large: false,
    progressive: 0,
    itemStyle: {
        color: p => cores[p.value[2]],
        opacity: 0.7,
        borderColor: "#ffffff",
        borderWidth: 1.4
    }
});

var grafico = echarts.init(document.getElementById("grafico"));

var option = {
    backgroundColor: "#ffffff",
    animation: false,
    title: {
        text: "Total Fertilizer vs Tomato Yield",
        left: 606,
        top: 14,
        textAlign: "center",
        textStyle: { fontFamily: fonte, fontSize: 30, fontWeight: "normal", color: "#000" }
    },
    grid: {
        left: 108.5,
        right: 19,
        top: 58,
        bottom: 101,
        show: true,
        borderColor: "#000",
        borderWidth: 1.8,
        backgroundColor: "transparent"
    },
    xAxis: {
        type: "value",
        min: 350.8,
        max: 620.1,
        name: "total_fertilizer_kg_ha",
        nameLocation: "middle",
        nameGap: 56,
        nameTextStyle: { fontFamily: fonte, fontSize: 25, color: "#000" },
        axisLine: { show: true, lineStyle: { color: "#000", width: 1.8 } },
        axisTick: { show: true, customValues: ticksX, length: 8, lineStyle: { color: "#000", width: 1.8 } },
        axisLabel: { customValues: ticksX, fontFamily: fonte, fontSize: 24.5, color: "#000", margin: 14 },
        splitLine: { show: false }
    },
    yAxis: {
        type: "value",
        min: 5.08,
        max: 31.85,
        name: "yield_kg_per_m2",
        nameLocation: "middle",
        nameGap: 61,
        nameTextStyle: { fontFamily: fonte, fontSize: 25, color: "#000" },
        axisLine: { show: true, lineStyle: { color: "#000", width: 1.8 } },
        axisTick: { show: true, customValues: ticksY, length: 8, lineStyle: { color: "#000", width: 1.8 } },
        axisLabel: { customValues: ticksY, fontFamily: fonte, fontSize: 24.5, color: "#000", margin: 13 },
        splitLine: { show: false }
    },
    legend: {
        data: variedades,
        orient: "vertical",
        left: 152,
        top: 119,
        padding: 0,
        z: 20,
        icon: "circle",
        itemWidth: 15,
        itemHeight: 15,
        itemGap: 13.3,
        selectedMode: false,
        itemStyle: { opacity: 0.7 },
        textStyle: { fontFamily: fonte, fontSize: 25.5, color: "#000", lineHeight: 26, padding: [0, 0, 0, 37] }
    },
    graphic: [
        {
            type: "rect",
            z: 19,
            shape: { x: 123, y: 72, width: 228, height: 204, r: 5 },
            style: { fill: "rgba(255,255,255,0.8)", stroke: "#cccccc", lineWidth: 1.8 }
        },
        {
            type: "text",
            z: 20,
            x: 237,
            y: 95,
            style: { text: "variety", font: "25.5px 'DejaVu Sans'", fill: "#000", align: "center", verticalAlign: "middle" }
        }
    ],
    series: series
};

grafico.setOption(option);
</script>
</body>
</html>
